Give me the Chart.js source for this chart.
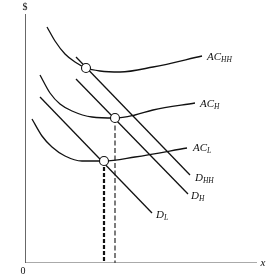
<!DOCTYPE html>
<html>
<head>
<meta charset="utf-8">
<script src="https://cdn.jsdelivr.net/npm/chart.js@4.4.0/dist/chart.umd.min.js"></script>
<style>
  html, body { margin: 0; padding: 0; background: #fff; }
  #wrap { width: 275px; height: 275px; }
</style>
</head>
<body>
<div id="wrap"><canvas id="chart" width="275" height="275"></canvas></div>
<script>
// axis extents (quantity x, dollars y)
const xMax = 232;
const yMax = 249;

// average cost curves
const acHHx = [22, 30, 40, 50, 61, 75, 95, 128, 177];
const acHHy = [236, 222, 209, 201, 195, 192, 191, 196, 207];
const acHx = [15, 25, 35, 47, 67, 90, 110, 128, 170];
const acHy = [188, 170, 159, 152, 146, 145, 148, 153, 160];
const acLx = [7, 17, 27, 40, 57, 79, 110, 162];
const acLy = [144, 127, 116, 107, 102, 102, 106, 115];

// demand lines (end points)
const dHHx = [51, 165];
const dHHy = [206, 88];
const dHx = [51, 163];
const dHy = [184, 69];
const dLx = [15, 127];
const dLy = [166, 50];

// tangency points
const tanX = [61, 90, 79];
const tanY = [195, 145, 102];

function pts(xs, ys) {
    return xs.map((x, i) => ({ x: x, y: ys[i] }));
}

const labels = [
    { t: 'AC', s: 'HH', x: 182, y: 207 },
    { t: 'AC', s: 'H', x: 175, y: 160 },
    { t: 'AC', s: 'L', x: 168, y: 116 },
    { t: 'D', s: 'HH', x: 170, y: 86 },
    { t: 'D', s: 'H', x: 166, y: 68 },
    { t: 'D', s: 'L', x: 131, y: 49 }
];

const textPlugin = {
    id: 'texts',
    afterDatasetsDraw(chart) {
        const ctx = chart.ctx;
        const xs = chart.scales.x;
        const ys = chart.scales.y;
        ctx.save();
        ctx.fillStyle = '#111';
        ctx.textBaseline = 'alphabetic';
        labels.forEach(l => {
            const px = xs.getPixelForValue(l.x);
            const py = ys.getPixelForValue(l.y) + 3.5;
            ctx.font = 'italic 11px "Liberation Serif", serif';
            ctx.fillText(l.t, px, py);
            const w = ctx.measureText(l.t).width;
            ctx.font = 'italic 7.5px "Liberation Serif", serif';
            ctx.fillText(l.s, px + w, py + 2.5);
        });
        ctx.font = '10px "Liberation Serif", serif';
        ctx.textAlign = 'center';
        ctx.fillText('$', xs.getPixelForValue(0), ys.getPixelForValue(yMax) - 4);
        ctx.fillText('0', xs.getPixelForValue(0) - 2, ys.getPixelForValue(0) + 11);
        ctx.font = 'italic 11px "Liberation Serif", serif';
        ctx.fillText('x', xs.getPixelForValue(xMax) + 6, ys.getPixelForValue(0) + 3);
        ctx.restore();
    }
};

const curve = (data) => ({
    data: data, showLine: true, borderColor: '#111', borderWidth: 1.3, pointRadius: 0,
    cubicInterpolationMode: 'monotone', fill: false
});
const line = (data) => ({
    data: data, showLine: true, borderColor: '#111', borderWidth: 1.3, pointRadius: 0, fill: false
});

new Chart(document.getElementById('chart'), {
    type: 'scatter',
    data: {
        datasets: [
            { data: [{ x: 0, y: yMax }, { x: 0, y: 0 }, { x: xMax, y: 0 }], showLine: true,
              borderColor: '#555', borderWidth: 1, pointRadius: 0 },
            curve(pts(acHHx, acHHy)),
            curve(pts(acHx, acHy)),
            curve(pts(acLx, acLy)),
            line(pts(dHHx, dHHy)),
            line(pts(dHx, dHy)),
            line(pts(dLx, dLy)),
            { data: [{ x: tanX[2], y: tanY[2] }, { x: tanX[2], y: 0 }], showLine: true,
              borderColor: '#111', borderWidth: 2.2, borderDash: [4, 2], pointRadius: 0 },
            { data: [{ x: tanX[1], y: tanY[1] }, { x: tanX[1], y: 0 }], showLine: true,
              borderColor: '#111', borderWidth: 1.1, borderDash: [5, 2.5], pointRadius: 0 },
            // tangency circles on top of everything
            { data: pts(tanX, tanY), showLine: false, pointRadius: 4.5, order: -1,
              pointBackgroundColor: '#fff', pointBorderColor: '#111', pointBorderWidth: 1.1 }
        ]
    },
    options: {
        responsive: false,
        animation: false,
        layout: { padding: { left: 25, right: 18, top: 14, bottom: 12 } },
        plugins: { legend: { display: false }, tooltip: { enabled: false } },
        scales: {
            x: { type: 'linear', min: 0, max: xMax, display: false },
            y: { type: 'linear', min: 0, max: yMax, display: false }
        }
    },
    plugins: [textPlugin]
});
</script>
</body>
</html>
